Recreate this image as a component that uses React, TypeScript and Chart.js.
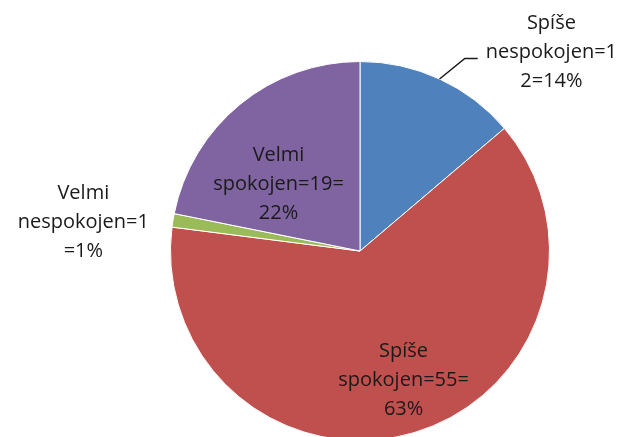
import React, { useEffect, useRef } from "react";
import { Chart, registerables } from "chart.js";

Chart.register(...registerables);

const categories = ["Spíše nespokojen", "Spíše spokojen", "Velmi nespokojen", "Velmi spokojen"];
const values = [12, 55, 1, 19];
const colors = ["#4F81BD", "#C0504D", "#9BBB59", "#8064A2"];
const labelLines = [
  ["Spíše", "nespokojen=1", "2=14%"],
  ["Spíše", "spokojen=55=", "63%"],
  ["Velmi", "nespokojen=1", "=1%"],
  ["Velmi", "spokojen=19=", "22%"],
];
// label anchor offsets in units of the pie radius (middle line position)
const labelAnchors = [
  [1.01, -1.05],
  [0.23, 0.68],
  [-1.46, -0.15],
  [-0.43, -0.35],
];

const labelPlugin = {
  id: "sliceLabels",
  afterDatasetsDraw(chart: any) {
    const ctx = chart.ctx;
    const meta = chart.getDatasetMeta(0);
    ctx.save();
    ctx.font = "20px 'Open Sans'";
    ctx.fillStyle = "#1a1a1a";
    ctx.textAlign = "center";
    ctx.textBaseline = "middle";
    const lh = 29;
    meta.data.forEach((arc: any, i: number) => {
      const { x, y, outerRadius, startAngle, endAngle } = arc.getProps(
        ["x", "y", "outerRadius", "startAngle", "endAngle"],
        true
      );
      const r = outerRadius;
      const [ax, ay] = labelAnchors[i];
      const cx = x + ax * r;
      const cy = y + ay * r;
      const lines = labelLines[i];
      lines.forEach((t, k) => {
        ctx.fillText(t, cx, cy + (k - 1) * lh);
      });
      if (i === 0) {
        const mid = (startAngle + endAngle) / 2;
        const px = x + Math.cos(mid) * r;
        const py = y + Math.sin(mid) * r;
        ctx.strokeStyle = "#1a1a1a";
        ctx.lineWidth = 1.5;
        ctx.beginPath();
        ctx.moveTo(px, py);
        ctx.lineTo(x + 0.553 * r, y - 1.016 * r);
        ctx.lineTo(x + 0.621 * r, y - 1.016 * r);
        ctx.stroke();
      }
    });
    ctx.restore();
  },
};

export default function App() {
  const ref = useRef<HTMLCanvasElement | null>(null);
  useEffect(() => {
    if (!ref.current) return;
    const chart = new Chart(ref.current, {
      type: "pie",
      data: {
        labels: categories,
        datasets: [
          {
            data: values,
            backgroundColor: colors,
            borderColor: "#ffffff",
            borderWidth: 1,
          },
        ],
      },
      options: {
        responsive: false,
        animation: false,
        layout: { padding: { left: 170, right: 77, top: 61, bottom: 19 } },
        plugins: {
          legend: { display: false },
          tooltip: { enabled: false },
        },
      },
      plugins: [labelPlugin],
    });
    return () => chart.destroy();
  }, []);
  return (
    <div
      style={{
        position: "fixed",
        left: 0,
        top: 0,
        width: 627,
        height: 437,
        overflow: "hidden",
        background: "#fff",
      }}
    >
      <canvas ref={ref} width={627} height={460} style={{ display: "block" }} />
    </div>
  );
}
